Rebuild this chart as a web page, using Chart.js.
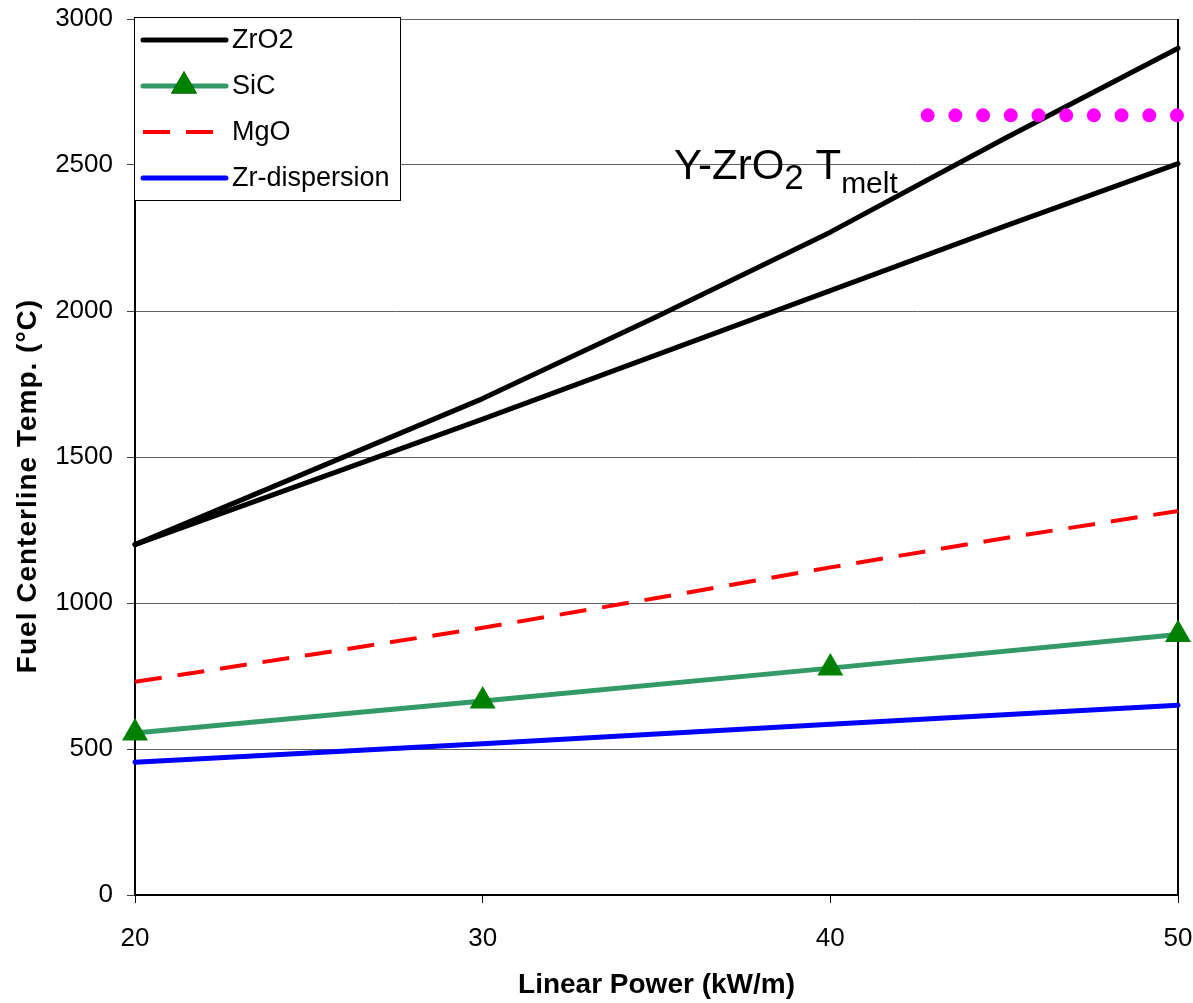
<!DOCTYPE html>
<html>
<head>
<meta charset="utf-8">
<script src="https://cdn.jsdelivr.net/npm/chart.js@4.4.1/dist/chart.umd.min.js"></script>
<style>
  html, body { margin: 0; padding: 0; background: #fff; }
  #wrap { width: 1193px; height: 1003px; }
</style>
</head>
<body>
<div id="wrap"><canvas id="chart" width="1193" height="1003"></canvas></div>
<script>
// values
const power = [20, 25, 30, 35, 40, 45, 50];
const zro2Upper = [1200, 1450, 1700, 1980, 2270, 2590, 2900];
const zro2Lower = [1200, 1415, 1630, 1850, 2070, 2290, 2505];
const mgo = [730, 822, 915, 1017, 1122, 1222, 1315];

const powerCoarse = [20, 30, 40, 50];
const sic = [555, 664, 777, 892];
const zrDispersion = [455, 518, 585, 650];

const meltPower = [42.8, 50];
const meltTemp = [2670, 2670];

const xTicks = [20, 30, 40, 50];
const yTicks = [0, 500, 1000, 1500, 2000, 2500, 3000];

// label anchor for the melt annotation (data units)
const meltLabelPower = 35.5;
const meltLabelTemp = 2452;

const FONT = 'Arial, "Liberation Sans", sans-serif';
const Y_TITLE = 'Fuel Centerline Temp. (°C)';

function pts(xs, ys) {
  return xs.map(function (x, i) { return { x: x, y: ys[i] }; });
}

// Excel-like legend box in the top left corner
const boxLegend = {
  id: 'boxLegend',
  afterDraw: function (chart) {
    const ctx = chart.ctx;
    const items = chart.data.datasets.filter(function (d) { return d.inLegend; });
    const left = 134, top = 17, width = 266, height = 183;
    ctx.save();
    ctx.fillStyle = '#ffffff';
    ctx.fillRect(left, top, width, height);
    ctx.strokeStyle = '#000000';
    ctx.lineWidth = 1;
    ctx.strokeRect(left + 0.5, top + 0.5, width, height);
    items.forEach(function (d, i) {
      const y = 40 + i * 46;
      ctx.beginPath();
      ctx.strokeStyle = d.borderColor;
      ctx.lineWidth = d.borderWidth;
      ctx.lineCap = d.borderDash && d.borderDash.length ? 'butt' : 'round';
      ctx.setLineDash(d.borderDash || []);
      ctx.moveTo(143, y);
      ctx.lineTo(226, y);
      ctx.stroke();
      ctx.setLineDash([]);
      if (d.pointRadius > 0) {
        Chart.helpers.drawPoint(ctx, {
          pointStyle: d.pointStyle,
          radius: d.pointRadius,
          borderWidth: 0,
          rotation: 0
        }, 184, y);
        ctx.fillStyle = d.pointBackgroundColor;
        ctx.fill();
      }
      ctx.fillStyle = '#000000';
      ctx.font = '27px ' + FONT;
      ctx.textBaseline = 'middle';
      ctx.textAlign = 'left';
      ctx.fillText(d.label, 232, y + 1);
    });
    ctx.restore();
  }
};

// right frame line, y title and the melt temperature label
const frameAndLabel = {
  id: 'frameAndLabel',
  beforeDatasetsDraw: function (chart) {
    const ctx = chart.ctx;
    const a = chart.chartArea;
    ctx.save();
    ctx.strokeStyle = '#000000';
    ctx.lineWidth = 2;
    ctx.beginPath();
    ctx.moveTo(a.right, a.top);
    ctx.lineTo(a.right, a.bottom);
    ctx.stroke();

    // y axis title, Excel puts it a bit below the middle
    ctx.translate(28, (a.top + a.bottom) / 2 + 29);
    ctx.rotate(-Math.PI / 2);
    ctx.fillStyle = '#000000';
    ctx.font = 'bold 28px ' + FONT;
    ctx.letterSpacing = '1px';
    ctx.textAlign = 'center';
    ctx.textBaseline = 'middle';
    ctx.fillText(Y_TITLE, 0, 0);
    ctx.restore();
  },
  afterDatasetsDraw: function (chart) {
    const ctx = chart.ctx;
    let x = chart.scales.x.getPixelForValue(meltLabelPower);
    const y = chart.scales.y.getPixelForValue(meltLabelTemp);
    ctx.save();
    ctx.fillStyle = '#000000';
    ctx.textBaseline = 'alphabetic';
    ctx.textAlign = 'left';
    ctx.font = '42px ' + FONT;
    ctx.fillText('Y-ZrO', x, y);
    x += ctx.measureText('Y-ZrO').width;
    ctx.font = '35px ' + FONT;
    ctx.fillText('2', x, y + 10);
    x += ctx.measureText('2').width;
    ctx.font = '42px ' + FONT;
    x += ctx.measureText(' ').width;
    ctx.fillText('T', x, y);
    x += ctx.measureText('T').width;
    ctx.font = '30px ' + FONT;
    ctx.fillText('melt', x, y + 14);
    ctx.restore();
  }
};

new Chart(document.getElementById('chart').getContext('2d'), {
  type: 'scatter',
  data: {
    datasets: [
      {
        label: 'Y-ZrO2 Tmelt',
        data: pts(meltPower, meltTemp),
        showLine: true,
        borderColor: '#ff00ff',
        borderWidth: 14,
        borderDash: [0, 27.7],
        borderCapStyle: 'round',
        pointRadius: 0,
        order: 0
      },
      {
        label: 'ZrO2',
        inLegend: true,
        data: pts(power, zro2Upper),
        showLine: true,
        borderColor: '#000000',
        borderWidth: 5,
        borderCapStyle: 'round',
        borderJoinStyle: 'round',
        pointRadius: 0,
        order: 1
      },
      {
        label: 'ZrO2 (2)',
        data: pts(power, zro2Lower),
        showLine: true,
        borderColor: '#000000',
        borderWidth: 5,
        borderCapStyle: 'round',
        borderJoinStyle: 'round',
        pointRadius: 0,
        order: 2
      },
      {
        label: 'SiC',
        inLegend: true,
        data: pts(powerCoarse, sic),
        showLine: true,
        borderColor: '#339966',
        borderWidth: 5,
        pointStyle: 'triangle',
        pointRadius: 15,
        pointBackgroundColor: '#008000',
        pointBorderColor: '#008000',
        pointBorderWidth: 0,
        order: 3
      },
      {
        label: 'MgO',
        inLegend: true,
        data: pts(power, mgo),
        showLine: true,
        borderColor: '#ff0000',
        borderWidth: 4,
        borderDash: [27, 16],
        pointRadius: 0,
        order: 4
      },
      {
        label: 'Zr-dispersion',
        inLegend: true,
        data: pts(powerCoarse, zrDispersion),
        showLine: true,
        borderColor: '#0000ff',
        borderWidth: 5,
        borderCapStyle: 'round',
        pointRadius: 0,
        order: 5
      }
    ]
  },
  options: {
    responsive: false,
    animation: false,
    clip: false,
    layout: { padding: { top: 19, right: 15, left: 0, bottom: 0 } },
    plugins: {
      legend: { display: false },
      tooltip: { enabled: false }
    },
    elements: { line: { tension: 0 } },
    scales: {
      x: {
        type: 'linear',
        min: 20,
        max: 50,
        afterBuildTicks: function (scale) {
          scale.ticks = xTicks.map(function (v) { return { value: v }; });
        },
        afterFit: function (scale) {
          scale.height = 108;
          scale.paddingLeft = 0;
          scale.paddingRight = 0;
        },
        ticks: {
          color: '#000000',
          font: { family: FONT, size: 26 },
          padding: 20,
          maxRotation: 0
        },
        grid: {
          drawOnChartArea: false,
          drawTicks: true,
          tickLength: 8,
          tickColor: '#000000',
          tickWidth: 1
        },
        border: { color: '#000000', width: 2 },
        title: {
          display: true,
          text: 'Linear Power (kW/m)',
          color: '#000000',
          font: { family: FONT, size: 28, weight: 'bold' },
          padding: { top: 0, bottom: 1 }
        }
      },
      y: {
        type: 'linear',
        min: 0,
        max: 3000,
        afterBuildTicks: function (scale) {
          scale.ticks = yTicks.map(function (v) { return { value: v }; });
        },
        afterFit: function (scale) {
          scale.width = 135;
          scale.paddingTop = 0;
          scale.paddingBottom = 0;
        },
        ticks: {
          color: '#000000',
          font: { family: FONT, size: 26 },
          padding: 14,
          callback: function (value) { return String(value); }
        },
        grid: {
          color: '#606060',
          lineWidth: 1,
          drawTicks: true,
          tickLength: 8,
          tickColor: '#404040'
        },
        border: { color: '#000000', width: 2 },
        title: { display: false }
      }
    }
  },
  plugins: [frameAndLabel, boxLegend]
});
</script>
</body>
</html>
